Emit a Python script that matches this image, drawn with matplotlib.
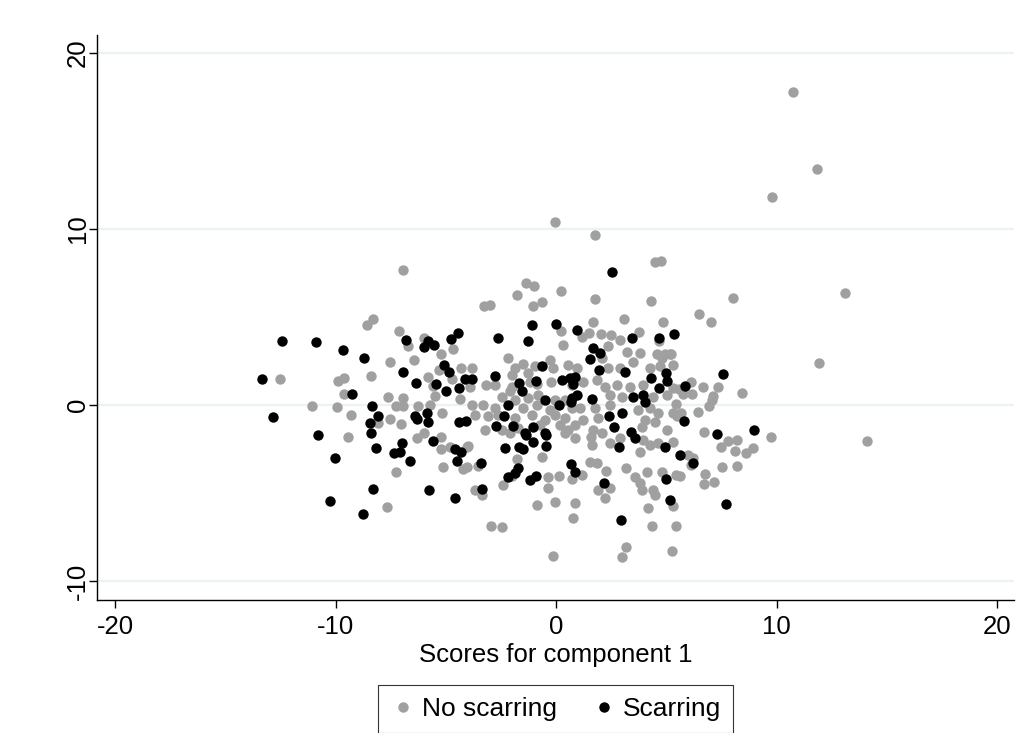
import matplotlib
matplotlib.use("Agg")
import matplotlib.pyplot as plt
from matplotlib.lines import Line2D

plt.rcParams['font.family'] = ['Liberation Sans', 'DejaVu Sans']

# Principal component scores (component 1, component 2) by scarring status
no_scar_pc1 = [
    -0.03, 1.78, -6.95, 4.49, 4.75, 10.73, 11.82, 9.78,
    8.03, 6.50, 7.02, 13.11, 11.93, 5.22, 6.12, 6.68, 7.33, 7.11, 8.42, 5.59, 5.77, 6.18,
    5.43, 5.32, 5.66, 6.43, 6.94, 7.06, 6.73, 5.29, 7.81, 8.22, 7.47, 8.12, 8.60, 8.95,
    9.75, 14.09, 6.00, 6.23, 6.11, 5.43, 5.62, 6.76, 7.51, 8.22, 6.73, 7.18, 5.29, 5.43, 5.25,
    -8.29, -8.57, -7.13, -6.73, -5.97, -4.67, -5.20, -6.44, -7.51, -4.32, -5.31, -12.53,
    -8.38, -9.61, -9.87, -5.80, -4.70, -9.60, -5.58, -5.49, -7.61, -6.95, -4.35,
    -11.08, -9.92, -9.28, -9.45, -8.06, -7.54, -7.03, -7.27, -6.95, -6.27, -5.73, -5.17,
    -6.00, -6.32, -5.20, -5.22, -4.81, -4.04, -7.27, -5.14, -4.23, -7.68,
    -1.37, -0.98, -1.77, 0.23, -2.99, -0.63, -1.06, 1.77, 4.29, 1.69, 3.10, 4.87, 0.23,
    0.33, 1.17, 1.51, 2.04, 2.49, 2.90, 3.78, 4.68, 2.36, 3.21, 3.81, 4.57, 4.94, 5.16, -3.27,
    -2.19, -3.82, -1.48, -1.86, -0.95, -0.27, -0.12, 0.56, -2.01, -1.26, -1.18, -3.19,
    -2.77, -3.90, -1.98, -0.88, -0.23, 0.71, -2.09, -0.80, -2.46, -1.86, -1.26, -0.05,
    0.41, -3.82, -3.30, -2.77, -1.48, -0.88, -0.27, 0.71, -3.67, -3.07, -2.62, -1.86,
    -1.10, -0.50, -0.05, 0.41, -2.46, -1.71, -0.73, 0.18, 0.56, -3.22,
    2.07, 3.51, 4.79, 0.94, 2.37, 2.90, 4.26, 4.72, 5.32, 1.24, 1.85, 2.22, 2.75, 3.36,
    3.96, 5.32, 2.45, 2.98, 4.41, 5.02, 1.09, 1.77, 2.45, 3.73, 4.26, 4.64, 5.47, 1.24,
    1.92, 4.04, 0.86, 1.69, 3.89, 4.49, 5.02,
    -2.09, -3.98, -0.65, -1.78, -3.52, -4.05, -2.01, -0.35, 0.14, 0.71, -2.39, -0.35,
    -3.67, -3.34, -0.88, -0.05, 0.41,
    0.86, 1.57, 2.07, 1.62, 2.45, 2.90, 3.96, 4.26, 4.64, 3.81, 1.54, 1.85, 2.27, 3.17,
    3.58, 4.11, 4.79, 1.17, 3.81, 3.89, 4.39, 1.92, 2.22, 2.45, 0.86, 4.49, 4.19,
    0.76, -2.95, -2.44, 4.34, 3.16, 3.01, -0.12,
]
no_scar_pc2 = [
    10.41, 9.66, 7.63, 8.11, 8.14, 17.74, 13.41, 11.78,
    6.08, 5.17, 4.73, 6.36, 2.35, 2.90, 1.27, 1.01, 1.01, 0.51, 0.66, 0.89, 0.63, 0.61,
    0.06, -0.47, -0.47, -0.38, -0.06, 0.28, -1.52, -2.09, -2.03, -1.99, -2.40, -2.60, -2.71, -2.43,
    -1.80, -2.05, -2.84, -3.03, -3.41, -3.98, -4.03, -3.92, -3.51, -3.45, -4.49, -4.36, -5.74, -6.88, -8.30,
    4.90, 4.53, 4.22, 3.35, 3.82, 3.16, 2.90, 2.57, 2.44, 2.10, 1.99, 1.49,
    1.63, 1.52, 1.36, 1.59, 1.44, 0.63, 1.08, 0.51, 0.47, 0.38, 0.32,
    -0.04, -0.10, -0.59, -1.84, -1.04, -0.80, -1.08, -0.06, -0.06, -0.04, -0.02, -0.45,
    -1.61, -1.88, -1.80, -2.48, -2.37, -2.37, -3.79, -3.51, -3.62, -5.80,
    6.91, 6.76, 6.21, 6.49, 5.68, 5.84, 5.59, 6.02, 5.87, 4.70, 4.85, 4.73, 4.22,
    3.41, 3.88, 4.07, 4.03, 3.98, 3.69, 4.11, 3.64, 3.35, 3.01, 2.92, 2.90, 2.90, 2.90, 5.62,
    2.65, 2.12, 2.31, 2.09, 2.18, 2.56, 2.09, 2.27, 1.70, 1.80, 1.32, 1.14,
    1.14, 1.04, 1.04, 1.18, 1.32, 1.14, 0.76, 0.57, 0.47, 0.28, 0.38, 0.28,
    0.28, 0.00, 0.00, -0.19, -0.19, 0.00, -0.28, -0.19, -0.57, -0.66, -0.57, -0.76,
    -0.57, -0.85, -0.57, -0.76, -1.42, -1.32, -1.14, -1.14, -1.42, -1.42,
    2.65, 2.46, 2.65, 2.09, 2.09, 2.09, 2.09, 2.18, 2.27, 1.32, 1.42, 1.04, 1.14, 1.04,
    1.14, 0.95, 0.57, 0.47, 0.47, 0.57, -0.19, -0.19, 0.00, -0.28, -0.19, -0.47, -0.66, -0.85,
    -0.76, -0.85, -1.14, -1.42, -1.23, -0.95, -1.42,
    -1.57, -2.33, -2.94, -3.09, -3.47, -3.54, -4.03, -4.11, -4.03, -4.22, -4.55, -4.73,
    -4.83, -5.11, -5.68, -5.49, -1.61,
    -1.89, -1.80, -1.57, -2.27, -2.18, -1.89, -1.99, -2.27, -2.18, -2.65, -3.22, -3.31, -3.73, -3.60,
    -4.07, -3.79, -3.79, -3.98, -4.45, -4.83, -4.83, -4.83, -5.30, -4.73, -5.59, -5.11, -5.87,
    -6.44, -6.88, -6.91, -6.88, -8.09, -8.65, -8.56,
]

scar_pc1 = [
    2.54, -12.44, -10.90, -9.67, -8.72, -13.32, -9.25, -6.93, -6.36, -6.79, -5.99, -5.79,
    -5.52, -4.78, -4.46, -5.09, -4.84, -4.11, -5.43, -4.99, -4.40,
    -12.83, -8.33, -8.09, -8.44, -8.38, -10.81, -8.18, -6.98, -7.35, -7.07, -6.63, -10.04,
    -6.39, -6.32, -5.84, -5.80, -5.56, -4.39, -4.08, -4.57, -4.31, -4.49, -8.30, -5.75,
    -10.26, -8.74, -4.58,
    -1.10, 0.00, 0.95, -1.27, -2.62, 3.46, 4.67, 5.34, 1.66, 2.00,
    7.59, 5.84, 5.80, 7.29, 8.97, 5.62, 6.23, 7.70,
    -0.65, -2.77, -3.80, -1.66, -1.53, -0.92, 0.26, 0.63, 0.78, -0.50, 0.15, 0.68, -2.19,
    -2.34, -2.73, -1.94, -1.03, -0.50, -1.41,
    1.54, 1.96, 3.13, 0.86, 0.71, 0.97, 1.65, 4.31, 4.99, 5.02, 4.68, 3.51, 3.93, 4.04,
    2.42, 2.98, 2.63, 3.40,
    -1.36, -1.03, -0.45, -0.45, -2.31, -1.66, -1.48, -3.41, -1.71, -1.86, -2.19, -0.91,
    -1.17, -3.34, 0.68, 0.86,
    2.87, 3.58, 4.94, 2.19, 4.98, 5.17, 2.96,
]
scar_pc2 = [
    7.52, 3.65, 3.58, 3.09, 2.67, 1.46, 0.63, 1.88, 1.23, 3.69, 3.28, 3.65,
    3.41, 3.73, 4.07, 2.27, 1.89, 1.46, 1.19, 0.76, 0.93,
    -0.68, -0.04, -0.66, -1.01, -1.57, -1.72, -2.44, -2.18, -2.71, -2.65, -3.16, -3.03,
    -0.66, -0.81, -0.47, -0.98, -2.06, -0.98, -0.89, -2.52, -2.69, -3.16, -4.76, -4.85,
    -5.44, -6.18, -5.30,
    4.51, 4.60, 4.26, 3.65, 3.81, 3.79, 3.81, 4.02, 3.24, 2.94,
    1.76, 1.08, -0.91, -1.65, -1.40, -2.84, -3.31, -5.61,
    2.18, 1.66, 1.48, 1.23, 0.80, 1.36, 1.42, 1.55, 1.18, 0.28, 0.00, 0.19, 0.00,
    -0.66, -1.18, -1.18, -1.23, -1.61, -1.61,
    2.61, 1.99, 1.86, 1.61, 0.38, 0.57, 0.32, 1.55, 1.80, 1.36, 0.95, 0.47, 0.57, 0.19,
    -0.66, -0.47, -1.23, -1.52,
    -1.70, -2.09, -1.70, -2.33, -2.46, -2.37, -2.52, -3.28, -3.60, -3.85, -4.11, -4.03,
    -4.26, -4.79, -3.37, -3.79,
    -2.40, -1.89, -2.37, -4.45, -4.22, -5.40, -6.53,
]

x_ticks = [-20, -10, 0, 10, 20]
y_ticks = [-10, 0, 10, 20]
x_label = "Scores for component 1"
legend_labels = ["No scarring", "Scarring"]

grey = "#a0a0a0"
black = "#000000"
font_size = 18.5

fig = plt.figure(figsize=(10.29, 7.33), dpi=100)
fig.patch.set_facecolor("white")
ax = fig.add_axes([97 / 1029, 133 / 733, 917 / 1029, 565 / 733])

for y in y_ticks:
    ax.axhline(y, color="#eaf2f3", linewidth=1.6, zorder=0)

ax.scatter(no_scar_pc1, no_scar_pc2, s=56, color=grey, linewidths=0, zorder=2)
ax.scatter(scar_pc1, scar_pc2, s=56, color=black, linewidths=0, zorder=3)

ax.set_xlim(-20.82, 20.77)
ax.set_ylim(-11.08, 21.0)
ax.set_xticks(x_ticks)
ax.set_yticks(y_ticks)
ax.set_xticklabels([str(v) for v in x_ticks])
ax.set_yticklabels([str(v) for v in y_ticks], rotation=90, va="center")
ax.tick_params(axis="both", direction="out", length=6, width=1, labelsize=font_size, color="black")
ax.tick_params(axis="x", pad=5)
ax.tick_params(axis="y", pad=-1)
for side in ("top", "right"):
    ax.spines[side].set_visible(False)
for side in ("left", "bottom"):
    ax.spines[side].set_linewidth(1)
    ax.spines[side].set_color("black")
ax.set_xlabel(x_label, fontsize=font_size, labelpad=3)

handles = [
    Line2D([], [], marker="o", linestyle="none", markersize=7.5, markerfacecolor=grey, markeredgewidth=0),
    Line2D([], [], marker="o", linestyle="none", markersize=7.5, markerfacecolor=black, markeredgewidth=0),
]
leg = fig.legend(handles, legend_labels, loc="upper center", bbox_to_anchor=(555.5 / 1029, 48 / 733),
                 ncol=2, fontsize=19, frameon=True, fancybox=False, edgecolor="black",
                 handletextpad=0.2, columnspacing=1.3, borderpad=0.45, handlelength=1.0,
                 borderaxespad=0)
leg.get_frame().set_linewidth(0.8)

fig.savefig("out.png", dpi=100, facecolor="white")
